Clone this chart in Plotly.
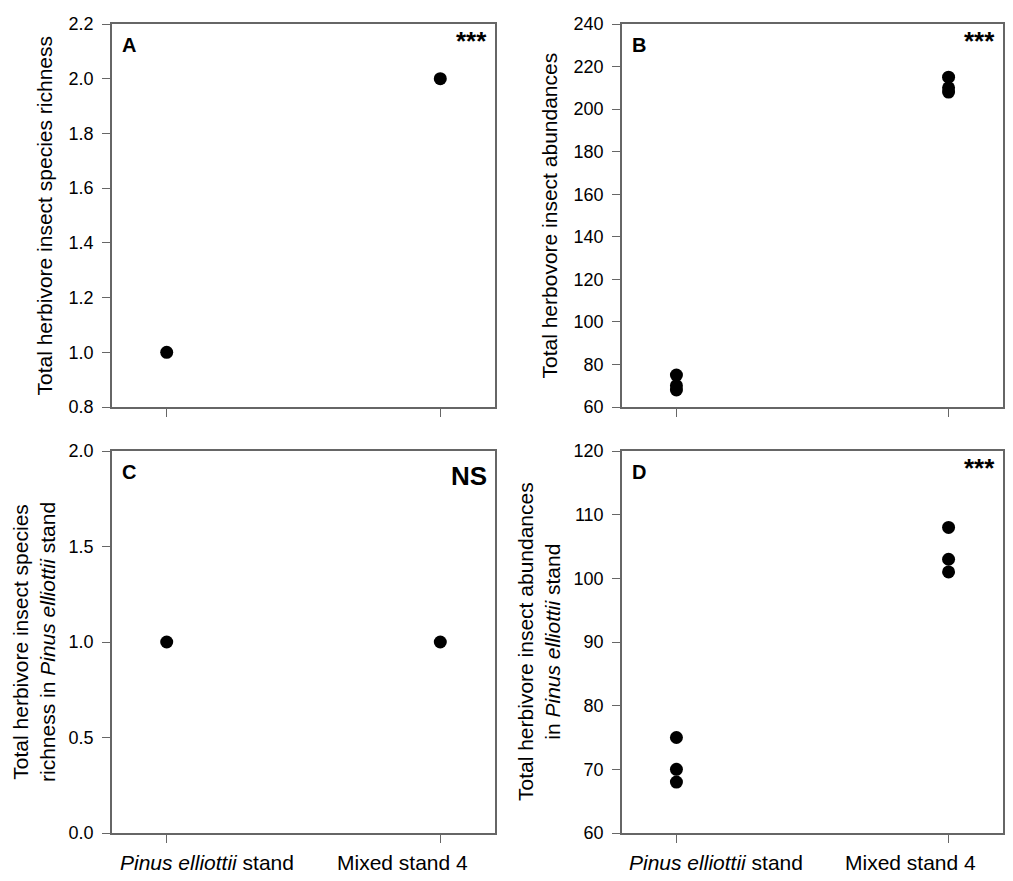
import plotly.graph_objects as go

# categories (x tick labels)
stands = ["<i>Pinus elliottii</i> stand", "Mixed stand 4"]

# panel A: total herbivore insect species richness
richness_pinus = [1.0]
richness_mixed = [2.0]

# panel B: total herbivore insect abundances
abund_pinus = [68, 70, 75]
abund_mixed = [208, 210, 215]

# panel C: species richness in Pinus elliottii stand
richness_pe_pinus = [1.0]
richness_pe_mixed = [1.0]

# panel D: abundances in Pinus elliottii stand
abund_pe_pinus = [68, 70, 75]
abund_pe_mixed = [101, 103, 108]

FONT = "Liberation Sans, Arial, sans-serif"
AXCOL = "#666666"
W, H, OFF = 1005, 873, 8  # page adds an 8px body margin


def dx(a, b):
    return [(a - OFF) / W, (b - OFF) / W]


def dy(top, bottom):
    return [1 - (bottom - OFF) / H, 1 - (top - OFF) / H]


fig = go.Figure()

panels = [
    ("x", "y", richness_pinus, richness_mixed),
    ("x2", "y2", abund_pinus, abund_mixed),
    ("x3", "y3", richness_pe_pinus, richness_pe_mixed),
    ("x4", "y4", abund_pe_pinus, abund_pe_mixed),
]
for xa, ya, p, m in panels:
    xs = [stands[0]] * len(p) + [stands[1]] * len(m)
    fig.add_trace(go.Scatter(x=xs, y=p + m, mode="markers", xaxis=xa, yaxis=ya,
                             marker=dict(color="black", size=13), showlegend=False,
                             cliponaxis=False))


def xax(domain, anchor):
    return dict(domain=domain, anchor=anchor, type="category", categoryorder="array",
                categoryarray=stands, range=[-0.2, 1.2], showline=True, linecolor=AXCOL,
                linewidth=1.5, mirror=True, ticks="outside", ticklen=8, tickcolor=AXCOL,
                showgrid=False, zeroline=False, showticklabels=False, automargin=False)


def yax(domain, anchor, rng, dtick, fmt):
    return dict(domain=domain, anchor=anchor, range=rng, dtick=dtick, tickformat=fmt,
                showline=True, linecolor=AXCOL, linewidth=1.5, mirror=True,
                ticks="outside", ticklen=8, tickcolor=AXCOL, showgrid=False,
                zeroline=False, automargin=False, ticklabelstandoff=5,
                tickfont=dict(size=18, color="black", family=FONT))


xl = dx(112, 495)
xr = dx(622, 1003)
yt = dy(24, 407)
yb = dy(451, 833)

fig.update_layout(
    template="none",
    width=W, height=H,
    margin=dict(l=0, r=0, t=0, b=0, pad=0),
    paper_bgcolor="white", plot_bgcolor="white",
    font=dict(family=FONT, color="black"),
    xaxis=xax(xl, "y"), yaxis=yax(yt, "x", [0.8, 2.2], 0.2, ".1f"),
    xaxis2=xax(xr, "y2"), yaxis2=yax(yt, "x2", [60, 240], 20, "d"),
    xaxis3=xax(xl, "y3"), yaxis3=yax(yb, "x3", [0, 2.0], 0.5, ".1f"),
    xaxis4=xax(xr, "y4"), yaxis4=yax(yb, "x4", [60, 120], 10, "d"),
)

ann = []
# panel letters and significance marks
for ref, letter, sig in [("", "A", "***"), ("2", "B", "***"),
                         ("3", "C", "NS"), ("4", "D", "***")]:
    ann.append(dict(xref=f"x{ref} domain", yref=f"y{ref} domain", x=0.022, y=0.98,
                    xanchor="left", yanchor="top", showarrow=False,
                    text=f"<b>{letter}</b>", font=dict(size=20)))
    ann.append(dict(xref=f"x{ref} domain", yref=f"y{ref} domain", x=0.985,
                    y=1.0 if sig == "***" else 0.98,
                    xanchor="right", yanchor="top", showarrow=False,
                    text=f"<b>{sig}</b>", font=dict(size=26)))

# x category labels on the bottom row, drawn as annotations (pulled inward)
for ref in ["3", "4"]:
    for cat, shift in zip(stands, [40, -38]):
        ann.append(dict(xref=f"x{ref}", yref=f"y{ref} domain", x=cat, y=0,
                        xanchor="center", yanchor="middle", xshift=shift, yshift=-29,
                        showarrow=False, text=cat, font=dict(size=21)))

# y axis titles (reference pixel x centres)
titles = [
    (44, yt, "Total herbivore insect species richness"),
    (549, yt, "Total herbovore insect abundances"),
    (34, yb, "Total herbivore insect species<br>richness in <i>Pinus elliottii</i> stand"),
    (539, yb, "Total herbivore insect abundances<br>in <i>Pinus elliottii</i> stand"),
]
for px_x, dom, t in titles:
    ann.append(dict(xref="paper", yref="paper", x=(px_x - OFF) / W, y=sum(dom) / 2,
                    xanchor="center", yanchor="middle", textangle=-90, showarrow=False,
                    text=t, font=dict(size=21)))
fig.update_layout(annotations=ann)

fig.write_html("out.html")
